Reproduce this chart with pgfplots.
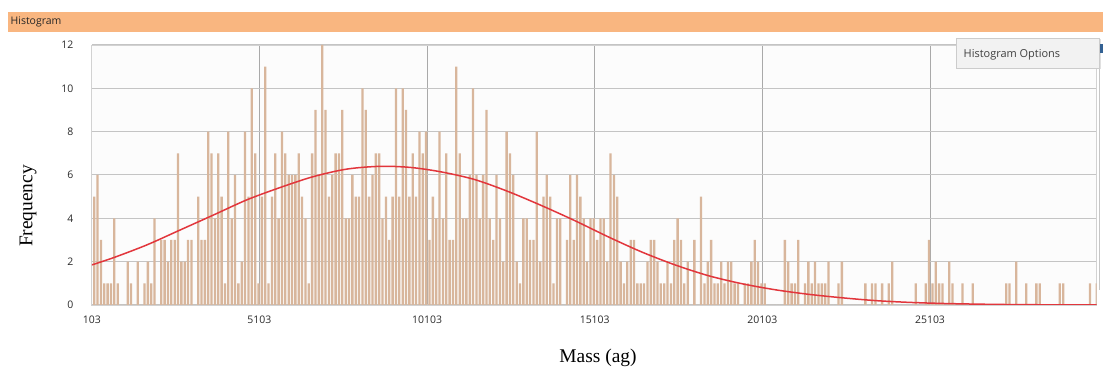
\documentclass[border=0pt]{standalone}
\usepackage{fontspec}
\setmainfont{Liberation Serif}
\newfontfamily\uifont{Open Sans}
\usepackage{pgfplots}
\pgfplotsset{compat=1.18}
\definecolor{headerorange}{HTML}{F9B680}
\definecolor{barfill}{HTML}{D8B69C}
\definecolor{fitred}{HTML}{E2363C}
\definecolor{hgrid}{HTML}{C4C4C4}
\definecolor{vgrid}{HTML}{A9A9A9}
\definecolor{framegray}{HTML}{D2D2D2}
\definecolor{plotbg}{HTML}{FCFCFC}
\definecolor{ticktext}{HTML}{2A2A2A}

\begin{document}
\begin{tikzpicture}[x=1bp,y=1bp]
\fill[white] (0,0) rectangle (1103,369);
% window title bar
\fill[headerorange] (7.5,336.5) rectangle (1103,357);
\node[anchor=west, font=\uifont\fontsize{10.5}{12}\selectfont, text=black!85, inner sep=0] at (10.5,347) {Histogram};

\begin{axis}[
  at={(91.8bp,64bp)}, anchor=south west,
  scale only axis, width=1004.9bp, height=260bp,
  xmin=103, xmax=30076, ymin=0, ymax=12,
  scaled x ticks=false, scaled y ticks=false,
  axis background/.style={fill=plotbg},
  axis line style={framegray, line width=0.8bp},
  xtick={103,5103,10103,15103,20103,25103},
  xticklabels={103,5103,10103,15103,20103,25103},
  ytick={0,2,...,12}, yticklabels={0,2,4,6,8,10,12},
  major tick length=0pt,
  grid=major,
  x grid style={vgrid, line width=0.9bp},
  y grid style={hgrid, line width=1bp},
  tick label style={font=\uifont\fontsize{10.5}{12}\selectfont, text=ticktext},
  yticklabel style={xshift=-15bp},
  xticklabel style={yshift=-7bp},
]
% counts per 100 ag bin
\addplot[ybar, bar width=2.3bp, bar shift=0pt, fill=barfill, draw=none] coordinates {
(175,5) (275,6) (375,3) (475,1) (575,1) (675,1) (775,4) (875,1) (975,0) (1075,0)
(1175,2) (1275,1) (1375,0) (1475,2) (1575,0) (1675,1) (1775,2) (1875,1) (1975,4) (2075,0)
(2175,3) (2275,3) (2375,2) (2475,3) (2575,3) (2675,7) (2775,2) (2875,2) (2975,3) (3075,3)
(3175,0) (3275,5) (3375,3) (3475,3) (3575,8) (3675,7) (3775,4) (3875,7) (3975,5) (4075,1)
(4175,8) (4275,4) (4375,6) (4475,1) (4575,2) (4675,8) (4775,5) (4875,10) (4975,7) (5075,1)
(5175,5) (5275,11) (5375,1) (5475,5) (5575,7) (5675,4) (5775,8) (5875,7) (5975,6) (6075,6)
(6175,6) (6275,7) (6375,5) (6475,4) (6575,1) (6675,7) (6775,9) (6875,6) (6975,12) (7075,9)
(7175,5) (7275,6) (7375,7) (7475,7) (7575,9) (7675,4) (7775,4) (7875,6) (7975,5) (8075,5)
(8175,10) (8275,9) (8375,5) (8475,6) (8575,7) (8675,7) (8775,4) (8875,5) (8975,3) (9075,5)
(9175,10) (9275,5) (9375,10) (9475,9) (9575,5) (9675,7) (9775,5) (9875,8) (9975,7) (10075,8)
(10175,3) (10275,5) (10375,4) (10475,8) (10575,4) (10675,7) (10775,3) (10875,3) (10975,11) (11075,7)
(11175,4) (11275,4) (11375,6) (11475,10) (11575,6) (11675,4) (11775,6) (11875,9) (11975,4) (12075,3)
(12175,6) (12275,4) (12375,2) (12475,8) (12575,7) (12675,6) (12775,2) (12875,1) (12975,4) (13075,4)
(13175,3) (13275,3) (13375,8) (13475,2) (13575,5) (13675,6) (13775,5) (13875,1) (13975,4) (14075,4)
(14175,0) (14275,3) (14375,6) (14475,3) (14575,6) (14675,5) (14775,4) (14875,2) (14975,4) (15075,4)
(15175,3) (15275,4) (15375,4) (15475,2) (15575,7) (15675,6) (15775,5) (15875,2) (15975,1) (16075,2)
(16175,3) (16275,3) (16375,1) (16475,1) (16575,1) (16675,2) (16775,3) (16875,3) (16975,2) (17075,1)
(17175,1) (17275,2) (17375,1) (17475,3) (17575,4) (17675,3) (17775,1) (17875,2) (17975,0) (18075,3)
(18175,0) (18275,5) (18375,1) (18475,2) (18575,3) (18675,1) (18775,1) (18875,2) (18975,1) (19075,2)
(19175,2) (19275,1) (19375,1) (19475,0) (19575,1) (19675,1) (19775,2) (19875,3) (19975,2) (20075,1)
(20175,1) (20275,0) (20375,0) (20475,0) (20575,0) (20675,0) (20775,3) (20875,2) (20975,1) (21075,1)
(21175,3) (21275,0) (21375,1) (21475,2) (21575,1) (21675,2) (21775,1) (21875,1) (21975,1) (22075,2)
(22175,0) (22275,0) (22375,1) (22475,2) (22575,0) (22675,0) (22775,0) (22875,0) (22975,0) (23075,0)
(23175,1) (23275,0) (23375,1) (23475,1) (23575,0) (23675,1) (23775,0) (23875,1) (23975,2) (24075,0)
(24175,0) (24275,0) (24375,0) (24475,0) (24575,0) (24675,1) (24775,0) (24875,0) (24975,1) (25075,3)
(25175,1) (25275,2) (25375,1) (25475,1) (25575,0) (25675,2) (25775,1) (25875,0) (25975,0) (26075,1)
(26175,0) (26275,0) (26375,1) (26475,0) (26575,0) (26675,0) (26775,0) (26875,0) (26975,0) (27075,0)
(27175,0) (27275,0) (27375,1) (27475,1) (27575,0) (27675,2) (27775,0) (27875,0) (27975,1) (28075,0)
(28175,0) (28275,1) (28375,1) (28475,0) (28575,0) (28675,0) (28775,0) (28875,0) (28975,1) (29075,1)
(29175,0) (29275,0) (29375,0) (29475,0) (29575,0) (29675,0) (29775,0) (29875,1) (29975,0) (30075,1)
};
% fitted normal curve
\addplot[fitred, line width=1.5bp, smooth, no markers] coordinates {
(103,1.85) (744,2.18) (1740,2.77) (2735,3.46) (3727,4.15) (4723,4.85) (5717,5.42)
(6700,5.92) (7700,6.27) (8700,6.4) (9600,6.35) (10500,6.15) (11500,5.8) (12500,5.25)
(13500,4.6) (14500,3.9) (15500,3.15) (16500,2.45) (17500,1.85) (18500,1.35) (19500,0.98)
(20500,0.7) (21500,0.49) (22500,0.33) (23500,0.2) (24500,0.12) (25500,0.07) (26500,0.04)
(27500,0.02) (28500,0.01) (30076,0.005)
};
\end{axis}

% axis captions
\node[rotate=90, font=\fontsize{19.5}{22}\selectfont] at (28,163) {Frequency};
\node[font=\fontsize{19.5}{22}\selectfont] at (598,11.5) {Mass (ag)};

% options panel at the top right
\draw[gray!45, line width=0.8bp] (1099.5,331) -- (1099.5,79);
\fill[black!12] (958,299.5) rectangle (1101,329.5);
\filldraw[fill=black!5, draw=black!20, line width=0.6bp] (956,301) rectangle (1099,331);
\node[anchor=west, font=\uifont\fontsize{11}{13}\selectfont, text=black!75, inner sep=0] at (963.5,314.5) {Histogram Options};
\fill[blue!35!teal!70!black!80] (1099.8,316) rectangle (1103,325);
\end{tikzpicture}
\end{document}
